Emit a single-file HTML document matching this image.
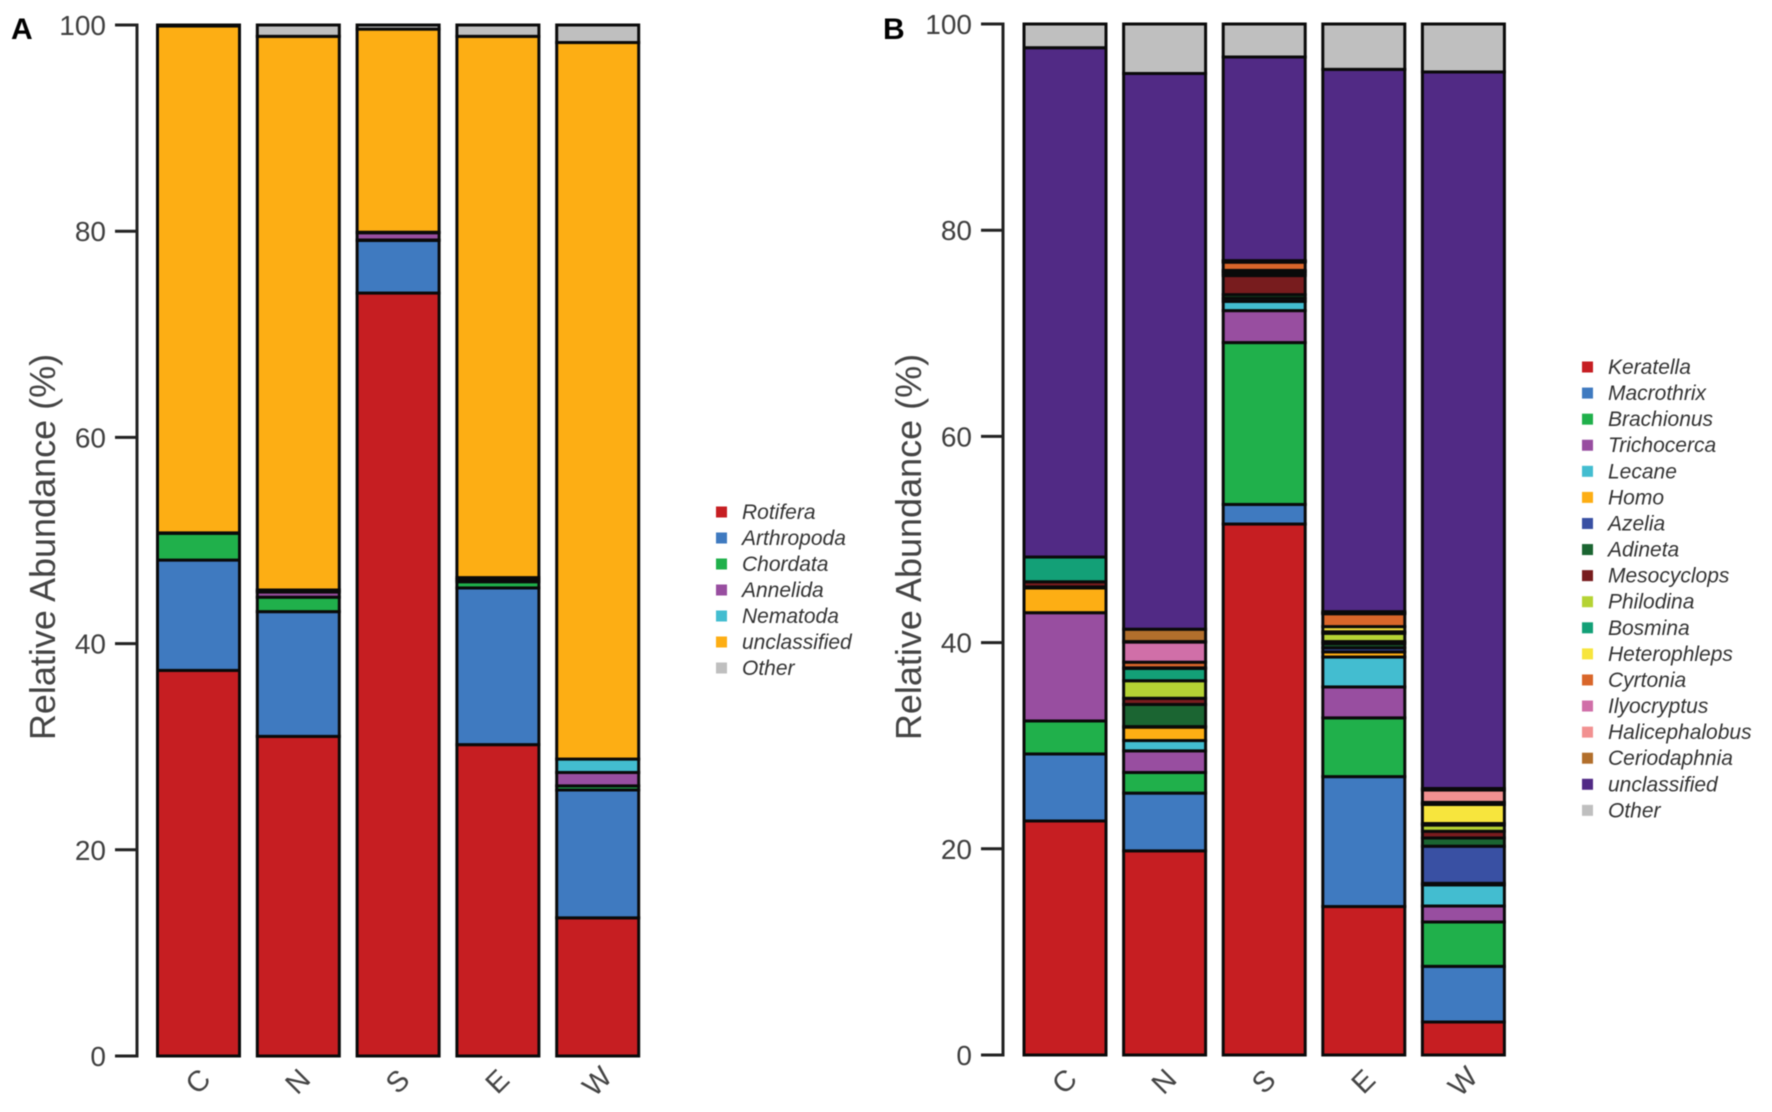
<!DOCTYPE html>
<html lang="en">
<head>
<meta charset="utf-8">
<title>Relative abundance stacked bars</title>
<style>
html,body{margin:0;padding:0;background:#fff;width:1772px;height:1112px;overflow:hidden}
svg{display:block;filter:blur(.5px)}
text{font-family:"Liberation Sans",sans-serif}
</style>
</head>
<body>
<svg id="figure" xmlns="http://www.w3.org/2000/svg" width="1772" height="1112" viewBox="0 0 1772 1112"></svg>
<script>
const categories = ['C', 'N', 'S', 'E', 'W'];
const yTicks = [0, 20, 40, 60, 80, 100];

/* Panel A – phylum level (% per site C,N,S,E,W) */
const phylaNames = ['Rotifera', 'Arthropoda', 'Chordata', 'Annelida', 'Nematoda', 'unclassified', 'Other'];
const rotifera = [37.4, 31.0, 74.0, 30.2, 13.4];
const arthropoda = [10.7, 12.1, 5.1, 15.2, 12.4];
const chordata = [2.6, 1.4, 0.05, 0.6, 0.4];
const annelida = [0.02, 0.5, 0.7, 0.2, 1.3];
const nematoda = [0.02, 0.2, 0.05, 0.2, 1.3];
const unclassifiedA = [49.16, 53.7, 19.7, 52.5, 69.5];
const otherA = [0.1, 1.1, 0.4, 1.1, 1.7];
const phylaValues = [rotifera, arthropoda, chordata, annelida, nematoda, unclassifiedA, otherA];

/* Panel B – genus level (% per site C,N,S,E,W) */
const generaNames = ['Keratella', 'Macrothrix', 'Brachionus', 'Trichocerca', 'Lecane', 'Homo', 'Azelia', 'Adineta', 'Mesocyclops', 'Philodina', 'Bosmina', 'Heterophleps', 'Cyrtonia', 'Ilyocryptus', 'Halicephalobus', 'Ceriodaphnia', 'unclassified', 'Other'];
const keratella = [22.7, 19.8, 51.5, 14.4, 3.2];
const macrothrix = [6.5, 5.6, 1.9, 12.6, 5.4];
const brachionus = [3.2, 2.0, 15.7, 5.7, 4.3];
const trichocerca = [10.5, 2.1, 3.1, 3.0, 1.55];
const lecane = [0, 1.0, 0.9, 2.9, 2.05];
const homo = [2.4, 1.3, 0, 0.5, 0.15];
const azelia = [0, 0.05, 0.3, 0.4, 3.6];
const adineta = [0.1, 2.15, 0.35, 0.4, 0.8];
const mesocyclops = [0.5, 0.6, 1.85, 0.2, 0.65];
const philodina = [0, 1.7, 0.2, 0.8, 0.6];
const bosmina = [2.4, 1.2, 0.2, 0.15, 0.15];
const heterophleps = [0, 0.05, 0.1, 0.5, 1.85];
const cyrtonia = [0, 0.55, 0.8, 1.25, 0.1];
const ilyocryptus = [0, 1.95, 0.05, 0.05, 0.1];
const halicephalobus = [0, 0.05, 0.05, 0.05, 1.2];
const ceriodaphnia = [0, 1.2, 0.05, 0.1, 0.15];
const unclassifiedB = [49.4, 53.9, 19.75, 52.6, 69.5];
const otherB = [2.3, 4.8, 3.2, 4.4, 4.65];
const generaValues = [keratella, macrothrix, brachionus, trichocerca, lecane, homo, azelia, adineta, mesocyclops, philodina, bosmina, heterophleps, cyrtonia, ilyocryptus, halicephalobus, ceriodaphnia, unclassifiedB, otherB];

const phylaColors = ['#c61e22', '#3f7ac0', '#20b04b', '#984ea0', '#43bdd0', '#fdae14', '#bfbfbf'];
const generaColors = ['#c61e22', '#3f7ac0', '#20b04b', '#984ea0', '#43bdd0', '#fdae14', '#3950a3', '#1b6532', '#781c1e', '#b5d334', '#13a077', '#f7e53d', '#d9662a', '#d06fa8', '#f29191', '#b26f2c', '#512a85', '#bfbfbf'];

const NS = 'http://www.w3.org/2000/svg';
const fig = document.getElementById('figure');

function slug(s) { return s.toLowerCase().replace(/[^a-z0-9]+/g, '-'); }

function shape(parent, tag, attrs, text) {
  const el = document.createElementNS(NS, tag);
  for (const k in attrs) el.setAttribute(k, attrs[k]);
  if (text !== undefined) el.textContent = text;
  parent.appendChild(el);
  return el;
}

function drawPanel(cfg) {
  const g = shape(fig, 'g', {});
  
  

  const yScale = v => cfg.y0 - (v / 100) * (cfg.y0 - cfg.y100);
  const xScale = i => cfg.x0 + i * cfg.step;

  const letter = shape(g, 'text', {x: cfg.letterX, y: 39, 'font-size': 30, 'font-weight': 'bold', fill: '#000'}, cfg.letter);
  
  

  const axis = shape(g, 'path', {
    d: 'M' + cfg.axisX + ' ' + yScale(100) + 'V' + yScale(0),
    stroke: '#222', 'stroke-width': 3, fill: 'none', 'stroke-linecap': 'square'
  });
  
  

  yTicks.forEach(t => {
    const tick = shape(g, 'line', {x1: cfg.axisX - 22, x2: cfg.axisX, y1: yScale(t), y2: yScale(t), stroke: '#222', 'stroke-width': 3});
    
    
    const lab = shape(g, 'text', {x: cfg.axisX - 31, y: yScale(t) + 10, 'text-anchor': 'end', 'font-size': 28, fill: '#3f3f3f'}, String(t));
    
    
  });

  const title = shape(g, 'text', {
    transform: 'translate(' + cfg.titleX + ' 547) rotate(-90)',
    'text-anchor': 'middle', 'font-size': 36, fill: '#444'
  }, 'Relative Abundance (%)');
  
  

  categories.forEach((cat, c) => {
    let cum = 0;
    const bar = shape(g, 'g', {});
    
    
    cfg.values.forEach((vals, s) => {
      const v = vals[c];
      const top = cum + v;
      if (v > 0) {
        const seg = shape(bar, 'rect', {
          x: xScale(c), width: cfg.barW,
          y: yScale(top), height: yScale(cum) - yScale(top),
          fill: cfg.colors[s], stroke: '#0a0a0a', 'stroke-width': 3
        });
        
        
      }
      cum = top;
    });
    const cx = xScale(c) + cfg.barW / 2;
    const lab = shape(g, 'text', {
      transform: 'translate(' + cx + ' 1082) rotate(-45)',
      'text-anchor': 'middle', 'dominant-baseline': 'central', 'font-size': 29, fill: '#444'
    }, cat);
    
    
  });

  const legend = shape(g, 'g', {});
  
  
  cfg.names.forEach((name, s) => {
    const ly = cfg.legendY + s * cfg.legendStep;
    const entry = shape(legend, 'g', {});
    
    
    shape(entry, 'rect', {x: cfg.legendX, y: ly - 5.5, width: 11, height: 11, fill: cfg.colors[s]});
    shape(entry, 'text', {x: cfg.legendX + 26, y: ly + 7, 'font-size': 21, 'font-style': 'italic', fill: '#333'}, name);
  });
}

drawPanel({
  letter: 'A', letterX: 11, axisX: 137, titleX: 55,
  x0: 157.5, step: 99.8, barW: 82, y0: 1056, y100: 25,
  values: phylaValues, names: phylaNames, colors: phylaColors,
  legendX: 716, legendY: 512, legendStep: 26
});

drawPanel({
  letter: 'B', letterX: 883, axisX: 1003, titleX: 921,
  x0: 1024, step: 99.6, barW: 82, y0: 1055, y100: 24,
  values: generaValues, names: generaNames, colors: generaColors,
  legendX: 1582, legendY: 367, legendStep: 26.08
});
</script>
</body>
</html>
